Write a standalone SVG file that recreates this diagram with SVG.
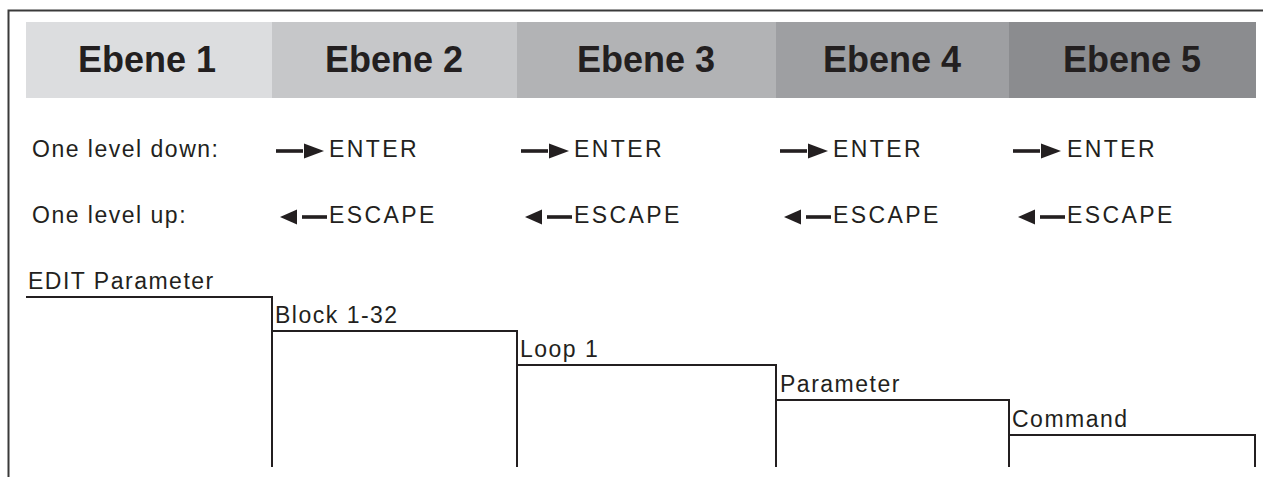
<svg xmlns="http://www.w3.org/2000/svg" width="1263" height="477" viewBox="0 0 1263 477">
<style>
.hdr{font-family:"Liberation Sans",Arial,sans-serif;font-weight:bold;font-size:36px;fill:#231f20;text-anchor:middle}
.lbl{font-family:"Liberation Sans",Arial,sans-serif;font-size:23px;fill:#231f20;letter-spacing:1.5px}
.key{font-family:"Liberation Sans",Arial,sans-serif;font-size:23px;fill:#231f20;letter-spacing:2.4px}
.step{fill:none;stroke:#231f20;stroke-width:2}
.arw{fill:#231f20}
</style>
<defs>
<g id="enter"><rect x="0" y="-1.8" width="27" height="3.6" class="arw"/><polygon points="28,-7.5 48,0 28,7.5" class="arw"/></g>
<g id="escape"><polygon points="0,0 17,-7.5 17,7.5" class="arw"/><rect x="22" y="-1.8" width="25" height="3.6" class="arw"/></g>
</defs>
<rect width="1263" height="477" fill="#fff"/>
<path d="M8.5,477 V10.5 H1263" fill="none" stroke="#3a3a3a" stroke-width="2"/>
<g id="header">
<g id="ebene1"><rect x="26" y="22" width="246" height="76" fill="#dcdddf"/><text class="hdr" x="147" y="72">Ebene 1</text></g>
<g id="ebene2"><rect x="272" y="22" width="245" height="76" fill="#c6c7c9"/><text class="hdr" x="394" y="72">Ebene 2</text></g>
<g id="ebene3"><rect x="517" y="22" width="259" height="76" fill="#b2b3b5"/><text class="hdr" x="646" y="72">Ebene 3</text></g>
<g id="ebene4"><rect x="776" y="22" width="233" height="76" fill="#9e9fa2"/><text class="hdr" x="892" y="72">Ebene 4</text></g>
<g id="ebene5"><rect x="1009" y="22" width="247" height="76" fill="#8b8c8f"/><text class="hdr" x="1132" y="72">Ebene 5</text></g>
</g>
<g id="keys">
<text class="lbl" x="32" y="157">One level down:</text>
<text class="lbl" x="32" y="223">One level up:</text>
<use href="#enter" x="276" y="151"/><text class="key" x="329" y="157">ENTER</text>
<use href="#enter" x="521" y="151"/><text class="key" x="574" y="157">ENTER</text>
<use href="#enter" x="780" y="151"/><text class="key" x="833" y="157">ENTER</text>
<use href="#enter" x="1013" y="151"/><text class="key" x="1067" y="157">ENTER</text>
<use href="#escape" x="280" y="217"/><text class="key" x="329" y="223">ESCAPE</text>
<use href="#escape" x="525" y="217"/><text class="key" x="574" y="223">ESCAPE</text>
<use href="#escape" x="784" y="217"/><text class="key" x="833" y="223">ESCAPE</text>
<use href="#escape" x="1018" y="217"/><text class="key" x="1067" y="223">ESCAPE</text>
</g>
<g id="node-edit"><text class="lbl" x="28" y="289">EDIT Parameter</text></g>
<g id="node-block"><text class="lbl" x="275" y="323">Block 1-32</text></g>
<g id="node-loop"><text class="lbl" x="520" y="357">Loop 1</text></g>
<g id="node-param"><text class="lbl" x="780" y="392">Parameter</text></g>
<g id="node-command"><text class="lbl" x="1012" y="427">Command</text></g>
<g id="connectors">
<path class="step" stroke-width="2.8" d="M26,297 H272 V467"/>
<path class="step" stroke-width="2.8" d="M272,331 H517 V467"/>
<path class="step" d="M517,365 H776 V467"/>
<path class="step" d="M776,400 H1009 V467"/>
<path class="step" d="M1009,435 H1255 V467"/>
</g>
</svg>
